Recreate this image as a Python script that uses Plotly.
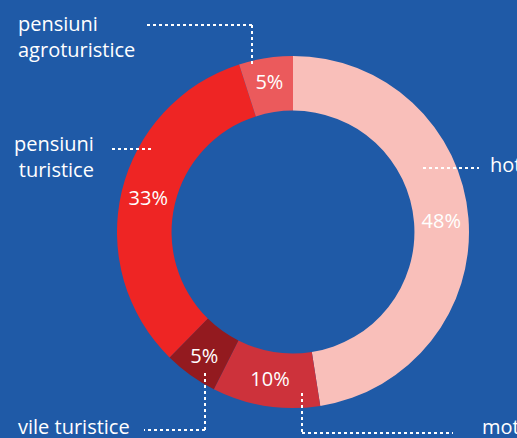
import plotly.graph_objects as go

W, H = 517, 438

categories = ["hoteluri", "moteluri", "vile turistice", "pensiuni turistice", "pensiuni agroturistice"]
shares = [48, 10, 5, 33, 5]
share_labels = ["48%", "10%", "5%", "33%", "5%"]
colors = ["#F9BFBA", "#CD323B", "#931A1F", "#EE2524", "#EB5A5C"]

BG = "#1F5AA7"
FONT = "Open Sans"


def px(x):
    return x / W


def py(y):
    return 1 - y / H


fig = go.Figure(
    go.Pie(
        labels=categories,
        values=shares,
        text=share_labels,
        textinfo="text",
        textposition="inside",
        insidetextorientation="horizontal",
        textfont=dict(color="white", size=20, family=FONT),
        marker=dict(colors=colors, line=dict(width=0)),
        hole=0.69,
        sort=False,
        direction="clockwise",
        rotation=0,
        domain=dict(x=[px(117), px(469)], y=[py(408), py(56)]),
        showlegend=False,
        hoverinfo="label+text",
    )
)

# dotted leader lines (paper coords)
leaders = [
    [(147, 25), (252, 25), (252, 66)],        # pensiuni agroturistice
    [(112, 149), (153, 149)],                 # pensiuni turistice
    [(423, 168), (479, 168)],                 # hoteluri
    [(205, 373), (205, 430), (144, 430)],     # vile turistice
    [(302, 393), (302, 433), (453, 433)],     # moteluri
]
for pts in leaders:
    for (x0, y0), (x1, y1) in zip(pts[:-1], pts[1:]):
        fig.add_shape(
            type="line", xref="paper", yref="paper",
            x0=px(x0), y0=py(y0), x1=px(x1), y1=py(y1),
            line=dict(color="white", width=2, dash="dot"),
            layer="above",
        )

# outside labels: (text, x, y_center, anchor, align)
labels = [
    ("pensiuni<br>agroturistice", 16, 36, "left", "left"),
    ("pensiuni<br>turistice", 96, 156, "right", "right"),
    ("hoteluri", 488, 165, "left", "left"),
    ("vile turistice", 16, 426, "left", "left"),
    ("moteluri", 480, 426, "left", "left"),
]
for txt, x, y, anchor, align in labels:
    fig.add_annotation(
        text=txt, xref="paper", yref="paper", x=px(x), y=py(y),
        xanchor=anchor, yanchor="middle", align=align, showarrow=False,
        font=dict(color="white", size=20, family=FONT),
    )

fig.update_layout(
    width=W,
    height=H,
    margin=dict(l=0, r=0, t=0, b=0),
    paper_bgcolor=BG,
    plot_bgcolor=BG,
)

fig.write_html(
    "out.html",
    config={"displayModeBar": False},
    post_script="document.body.style.margin='0';",
)
